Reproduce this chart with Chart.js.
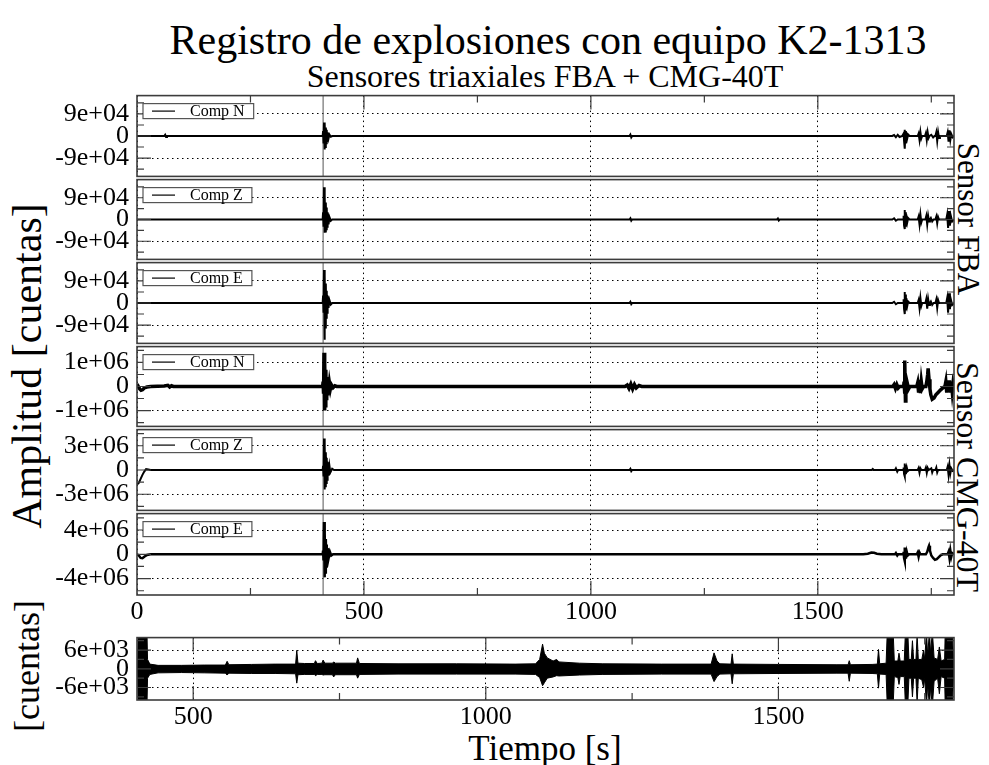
<!DOCTYPE html>
<html>
<head>
<meta charset="utf-8">
<script src="https://cdn.jsdelivr.net/npm/chart.js@4/dist/chart.umd.min.js"></script>
<style>
body { margin: 0; background: #fff; width: 989px; height: 765px; position: relative; overflow: hidden;
       font-family: "Liberation Serif", "Times New Roman", serif; color: #000; }
.txt { position: absolute; white-space: nowrap; line-height: 1; transform: translate(-50%, -50%); }
</style>
</head>
<body>
<div class="txt" style="left:548px;top:40px;font-size:42px">Registro de explosiones con equipo K2-1313</div>
<div class="txt" style="left:545px;top:76px;font-size:32px">Sensores triaxiales FBA + CMG-40T</div>
<div class="txt" style="left:968px;top:219px;font-size:31px;transform:translate(-50%,-50%) rotate(90deg)">Sensor FBA</div>
<div class="txt" style="left:968px;top:477px;font-size:32px;transform:translate(-50%,-50%) rotate(90deg)">Sensor CMG-40T</div>
<div class="txt" style="left:27px;top:366px;font-size:42px;transform:translate(-50%,-50%) rotate(-90deg)">Amplitud [cuentas]</div>
<div class="txt" style="left:27px;top:666px;font-size:36px;transform:translate(-50%,-50%) rotate(-90deg)">[cuentas]</div>
<div class="txt" style="left:545px;top:748px;font-size:35px">Tiempo [s]</div>
<script>
// time axis (s)
const tStart = 0, tEnd = 1800, tZoomStart = 404;
const xMajor = [0, 500, 1000, 1500];
const xMinor = [250, 750, 1250, 1750];
const markerTime = 410;

// one entry per stacked panel, top to bottom
const compNames = ['Comp N', 'Comp Z', 'Comp E', 'Comp N', 'Comp Z', 'Comp E'];
const yLimits = [1.65e5, 1.65e5, 1.65e5, 1.66e6, 5e6, 6.7e6];
const yMajorStep = [9e4, 9e4, 9e4, 1e6, 3e6, 4e6];

// traces [t, cuentas]
const fbaN = [[0,0],[60,0],[62,5e3],[64,-4e3],[66,0],[409,0],[410,2e4],[411,-3e4],[412,5.5e4],[413,-5.5e4],[414,5e4],[415,-4.5e4],[416,3.5e4],[417,-3e4],[418,2.5e4],[419,-2e4],[420,1.5e4],[422,-1e4],[424,6e3],[427,-3e3],[430,0],[1085,0],[1087,6e3],[1089,-6e3],[1091,0],[1664,0],[1668,4e3],[1672,-5e3],[1676,5e3],[1680,-4e3],[1686,0],[1689,1e4],[1690,-2e4],[1691,2.6e4],[1692,-5.2e4],[1693,2e4],[1694,-3e4],[1695,1.5e4],[1697,-1e4],[1699,6e3],[1702,0],[1720,0],[1722,1e4],[1724,-1.6e4],[1726,1.6e4],[1728,-1e4],[1730,0],[1736,0],[1738,1.2e4],[1740,-1.6e4],[1742,1.5e4],[1744,-8e3],[1746,0],[1750,5e3],[1754,-6e3],[1757,0],[1759,0],[1761,1.5e4],[1763,-2e4],[1765,1.5e4],[1767,-8e3],[1769,0],[1784,0],[1786,1.5e4],[1788,-2.3e4],[1790,2.3e4],[1792,-1.5e4],[1794,8e3],[1797,-5e3],[1800,0]];
const fbaZ = [[0,0],[409,0],[410,3e4],[411,-3e4],[412,1.33e5],[413,-5.5e4],[414,1e5],[415,-5e4],[416,7e4],[417,-4e4],[418,5e4],[419,-3e4],[420,3e4],[422,-2e4],[424,1e4],[427,-5e3],[430,0],[1085,0],[1087,5e3],[1089,-5e3],[1091,0],[1410,0],[1412,4e3],[1414,-4e3],[1416,0],[1664,0],[1668,5e3],[1672,-5e3],[1676,0],[1688,0],[1689,1.5e4],[1690,-2.5e4],[1691,3.9e4],[1692,-3.9e4],[1693,3e4],[1694,-3e4],[1695,2e4],[1697,-1.2e4],[1699,6e3],[1702,0],[1720,0],[1722,1.2e4],[1724,-2e4],[1726,2e4],[1728,-1.2e4],[1730,0],[1737,0],[1739,1.5e4],[1741,-2e4],[1743,1.5e4],[1745,-8e3],[1747,0],[1749,6e3],[1752,-8e3],[1755,0],[1759,0],[1761,1.2e4],[1763,-1.6e4],[1765,1e4],[1767,0],[1783,0],[1785,2e4],[1787,-3.5e4],[1789,3.5e4],[1791,-2.5e4],[1793,1.5e4],[1796,-8e3],[1800,0]];
const fbaE = [[0,0],[409,0],[410,3e4],[411,-4e4],[412,1.35e5],[413,-1.5e5],[414,1.1e5],[415,-1e5],[416,8e4],[417,-6e4],[418,5e4],[419,-4e4],[420,3e4],[422,-2e4],[424,1.2e4],[427,-6e3],[430,0],[1085,0],[1087,5e3],[1089,-5e3],[1091,0],[1664,0],[1668,5e3],[1672,-5e3],[1676,0],[1688,0],[1689,1.5e4],[1690,-2.5e4],[1691,4.5e4],[1692,-4.5e4],[1693,3.5e4],[1694,-3e4],[1695,2e4],[1697,-1.2e4],[1699,6e3],[1702,0],[1720,0],[1722,1.2e4],[1724,-2e4],[1726,2e4],[1728,-1.2e4],[1730,0],[1737,0],[1739,1.6e4],[1741,-2.3e4],[1743,1.6e4],[1745,-8e3],[1747,0],[1749,6e3],[1752,-8e3],[1755,0],[1759,0],[1761,1.4e4],[1763,-2e4],[1765,1.2e4],[1767,0],[1783,0],[1785,2e4],[1787,-4e4],[1789,4e4],[1791,-2.5e4],[1793,1.5e4],[1796,-8e3],[1800,0]];
const cmgN = [[0,1e5],[3,0],[6,-1e5],[9,-1.6e5],[12,-1.4e5],[16,-6e4],[22,-2e4],[30,0],[60,2e4],[68,5e4],[72,-2e4],[76,3e4],[80,0],[409,0],[410,2e5],[411,-3e5],[412,1.4e6],[413,-1e6],[414,1e6],[415,-8e5],[416,7e5],[417,-5e5],[418,4e5],[419,-3e5],[420,3e5],[422,-2e5],[424,1.5e5],[426,-1e5],[428,8e4],[432,-5e4],[436,3e4],[440,0],[1075,0],[1080,6e4],[1084,-8e4],[1088,1e5],[1092,-1e5],[1096,8e4],[1100,-6e4],[1106,4e4],[1112,0],[1665,0],[1668,8e4],[1671,-8e4],[1674,8e4],[1677,-6e4],[1680,0],[1689,0],[1690,2e5],[1691,-3e5],[1692,1.08e6],[1693,-6e5],[1694,3e5],[1695,-3e5],[1697,1.5e5],[1700,-1e5],[1703,0],[1718,0],[1720,1.5e5],[1722,-2.5e5],[1724,2.8e5],[1726,-2.8e5],[1728,2e5],[1730,-1e5],[1733,0],[1738,0],[1740,2e5],[1742,5e5],[1743,7.5e5],[1745,3e5],[1747,-1e5],[1749,-3.5e5],[1752,-5.3e5],[1756,-4.8e5],[1760,-3.5e5],[1765,-2.5e5],[1770,-1.5e5],[1776,-5e4],[1780,0],[1782,2e5],[1784,-2.5e5],[1786,2.5e5],[1788,-2e5],[1790,2.5e5],[1792,-2.5e5],[1794,2e5],[1796,-2e5],[1798,1.5e5],[1800,0]];
const cmgZ = [[0,-1.8e6],[4,-1.6e6],[8,-1.1e6],[12,-6e5],[16,-2e5],[20,1e5],[25,5e4],[30,0],[409,0],[410,5e5],[411,-8e5],[412,3.9e6],[413,-2.4e6],[414,3e6],[415,-2e6],[416,2.2e6],[417,-1.6e6],[418,1.5e6],[419,-1.2e6],[420,1e6],[422,-7e5],[424,5e5],[426,-3e5],[430,1.5e5],[434,0],[1085,0],[1087,1.5e5],[1089,-1.5e5],[1091,0],[1619,0],[1621,1.2e5],[1623,0],[1670,0],[1672,2e5],[1675,-2e5],[1677,0],[1688,0],[1689,3e5],[1690,-5e5],[1691,8e5],[1692,-8e5],[1693,6e5],[1694,-5e5],[1696,3e5],[1698,-1.5e5],[1701,0],[1720,0],[1722,2.5e5],[1724,-3.5e5],[1726,2e5],[1728,0],[1736,0],[1738,3e5],[1740,-3.5e5],[1742,2.5e5],[1744,0],[1750,2e5],[1752,-3e5],[1754,0],[1759,0],[1761,3e5],[1763,-3e5],[1765,0],[1784,0],[1786,4e5],[1788,-6e5],[1790,6e5],[1792,-4e5],[1794,2e5],[1797,-1e5],[1800,0]];
const cmgE = [[0,0],[4,-2e5],[8,-6e5],[12,-6.5e5],[16,-4e5],[22,-1e5],[30,0],[409,0],[410,6e5],[411,-1e6],[412,5.3e6],[413,-3.8e6],[414,3.5e6],[415,-3e6],[416,2.5e6],[417,-2e6],[418,1.6e6],[419,-1.3e6],[420,1e6],[422,-7e5],[425,4e5],[428,-2e5],[432,0],[1600,0],[1610,1e5],[1618,3e5],[1624,2.5e5],[1630,1e5],[1640,0],[1670,0],[1672,2e5],[1675,-2e5],[1677,0],[1688,0],[1689,4e5],[1690,-6e5],[1691,1.1e6],[1692,-1.1e6],[1693,8e5],[1694,-7e5],[1696,4e5],[1698,-2e5],[1701,0],[1718,0],[1720,3e5],[1722,-4e5],[1724,3e5],[1726,0],[1738,0],[1741,4e5],[1744,1.2e6],[1745,1.4e6],[1747,6e5],[1750,-2e5],[1754,-6e5],[1758,-9e5],[1762,-8e5],[1766,-5e5],[1770,-2e5],[1775,0],[1786,0],[1788,4e5],[1790,-6e5],[1792,6e5],[1794,-4e5],[1796,2e5],[1800,0]];
const traces = [fbaN, fbaZ, fbaE, cmgN, cmgZ, cmgE];

// zoomed panel: envelope of the noisy record
const botLimit = 1e4, botStep = 6e3;
const botTime  = [404,405,406,421,422,426,440,480,520,555,558,561,600,640,675,677,679,690,707,709,712,720,722,725,738,740,743,779,781,784,850,950,1050,1085,1092,1097,1100,1105,1115,1121,1125,1160,1200,1300,1385,1390,1395,1400,1419,1421,1423,1500,1600,1619,1621,1623,1660,1669,1671,1673,1684,1686,1696,1698,1704,1706,1708,1715,1717,1721,1723,1727,1729,1731,1735,1737,1739,1745,1748,1750,1753,1755,1758,1760,1763,1766,1772,1775,1778,1784,1785,1797,1799,1800];
const botUpper = [1000,1200,12000,12000,3000,1500,1100,1100,1200,1200,2400,1300,1400,1500,1500,5900,1800,1700,1700,2600,1700,1800,2800,1800,1800,2200,1800,1800,3500,1700,1600,1600,1500,1600,3000,7900,5000,3500,2500,3000,2200,1800,1600,1500,1500,5100,2500,1600,1500,4800,1500,1400,1300,1300,2600,1300,1400,1500,6200,1600,1800,12000,12000,2500,2500,5000,2500,2500,12000,12000,3000,3000,9000,3000,3000,11000,3000,3000,6000,3000,12000,4000,12000,5000,12000,3500,3000,7000,2500,3000,12000,12000,4000,4000];
const botLower = [-1000,-1200,-12000,-12000,-3000,-1800,-1300,-1200,-1300,-1400,-2000,-1400,-1500,-1500,-1600,-4600,-1900,-1800,-1800,-2200,-1800,-1800,-2000,-1900,-1900,-2600,-1900,-1900,-3000,-1800,-1700,-1700,-1700,-1800,-2800,-5400,-4500,-3000,-2600,-2200,-2300,-2000,-1800,-1700,-1700,-4100,-2500,-1700,-1600,-4800,-1600,-1500,-1400,-1400,-4000,-1400,-1500,-1600,-6200,-1700,-1800,-12000,-12000,-2500,-2800,-5000,-2500,-2500,-12000,-12000,-3000,-3000,-9000,-3000,-3000,-11000,-3000,-3500,-6000,-3000,-12000,-5000,-12000,-6000,-12000,-4000,-3000,-8000,-2500,-3000,-12000,-12000,-4000,-4000];

const serif = '"Liberation Serif", "Times New Roman", serif';
const tickFont = { family: serif, size: 26 };

function fmtExp(v) {
  if (v === 0) return '0';
  const e = Math.floor(Math.log10(Math.abs(v)));
  const m = Math.round(v / Math.pow(10, e));
  return m + 'e' + (e < 0 ? '-' : '+') + String(Math.abs(e)).padStart(2, '0');
}

function toXY(arr) { return arr.map(p => ({ x: p[0], y: p[1] })); }

// border, inward ticks and the boxed key, as gnuplot draws them
function framePlugin(f) {
  return {
    id: 'frame',
    afterDatasetsDraw(chart) {
      const { ctx, chartArea: a, scales: { x, y } } = chart;
      ctx.save();
      ctx.strokeStyle = '#3c3c3c';
      ctx.lineWidth = 1.2;
      ctx.beginPath();
      const half = f.yStep / 2;
      const n = Math.floor(y.max / half);
      for (let k = -n; k <= n; k++) {
        const py = y.getPixelForValue(k * half);
        const len = k % 2 === 0 ? 14 : 7;
        ctx.moveTo(a.left, py); ctx.lineTo(a.left + len, py);
        ctx.moveTo(a.right, py); ctx.lineTo(a.right - len, py);
      }
      const xt = xMajor.map(v => [v, 14]).concat(xMinor.map(v => [v, 7]));
      xt.forEach(([v, len]) => {
        if (v <= x.min || v >= x.max) return;
        const px = x.getPixelForValue(v);
        if (f.top) { ctx.moveTo(px, a.top); ctx.lineTo(px, a.top + len); }
        if (f.bottom) { ctx.moveTo(px, a.bottom); ctx.lineTo(px, a.bottom - len); }
      });
      ctx.stroke();
      ctx.lineWidth = 1.6;
      ctx.strokeRect(a.left, a.top, a.right - a.left, a.bottom - a.top);

      const label = chart.data.datasets[0].label;
      if (label) {
        ctx.font = '16px ' + serif;
        const w = ctx.measureText(label).width;
        const bx = a.left + 6, by = a.top + 8, bh = 15, bw = 47 + w + 9;
        ctx.fillStyle = '#fff';
        ctx.fillRect(bx, by, bw, bh);
        ctx.strokeStyle = '#555';
        ctx.lineWidth = 1.2;
        ctx.strokeRect(bx, by, bw, bh);
        ctx.strokeStyle = '#000';
        ctx.beginPath();
        ctx.moveTo(bx + 9, by + bh / 2); ctx.lineTo(bx + 32, by + bh / 2);
        ctx.stroke();
        ctx.fillStyle = '#000';
        ctx.textBaseline = 'middle';
        ctx.fillText(label, bx + 47, by + bh / 2 + 1);
      }
      ctx.restore();
    }
  };
}

function makePanel(p) {
  const pad = 22;
  const axisH = p.xLabels ? 40 : 0;
  const canvas = document.createElement('canvas');
  canvas.width = 989;
  canvas.height = p.height + 2 * pad + axisH;
  canvas.style.cssText = 'position:absolute;left:0;top:' + (p.top - pad) + 'px';
  document.body.appendChild(canvas);
  return new Chart(canvas, {
    type: 'line',
    data: { datasets: p.datasets },
    options: {
      responsive: false,
      animation: false,
      events: [],
      layout: { padding: { top: pad, bottom: pad, left: 0, right: 35 } },
      elements: { point: { radius: 0 }, line: { tension: 0 } },
      plugins: { legend: { display: false }, tooltip: { enabled: false } },
      scales: {
        x: {
          type: 'linear', min: p.xMin, max: p.xMax,
          afterBuildTicks: s => { s.ticks = p.xTicks.map(v => ({ value: v })); },
          afterFit: s => { s.height = axisH; },
          ticks: { display: p.xLabels, autoSkip: false, maxRotation: 0, padding: 2, color: '#000', font: tickFont, callback: v => String(v) },
          grid: { color: '#000', lineWidth: 1, drawTicks: false },
          border: { display: false, dash: [1.5, 3.5] }
        },
        y: {
          min: -p.yMax, max: p.yMax,
          afterBuildTicks: s => { s.ticks = [-p.yStep, 0, p.yStep].map(v => ({ value: v })); },
          afterFit: s => { s.width = 137; },
          ticks: { autoSkip: false, padding: 8, color: '#000', font: tickFont, callback: fmtExp },
          grid: { color: c => (c.tick && c.tick.value === 0) ? 'rgba(0,0,0,0)' : '#000', lineWidth: 1, drawTicks: false },
          border: { display: false, dash: [1.5, 3.5] }
        }
      }
    },
    plugins: [framePlugin({ yStep: p.yStep, top: p.top === 94 || p.zoom, bottom: p.xLabels })]
  });
}

const edges = [94, 178, 261, 345, 428, 512, 595];
const widths = [2, 2, 2, 3.5, 2, 2.5];
traces.forEach((tr, i) => {
  makePanel({
    top: edges[i], height: edges[i + 1] - edges[i],
    xMin: tStart, xMax: tEnd, xTicks: xMajor, xLabels: i === traces.length - 1,
    yMax: yLimits[i], yStep: yMajorStep[i],
    datasets: [
      { label: compNames[i], data: toXY(tr), borderColor: '#000', borderWidth: widths[i], clip: 0 },
      { data: [{ x: markerTime, y: -yLimits[i] }, { x: markerTime, y: yLimits[i] }], borderColor: '#555', borderWidth: 1, clip: 0 }
    ]
  });
});

makePanel({
  top: 636, height: 64, zoom: true,
  xMin: tZoomStart, xMax: tEnd, xTicks: [500, 1000, 1500], xLabels: true,
  yMax: botLimit, yStep: botStep,
  datasets: [
    { data: botTime.map((t, i) => ({ x: t, y: botUpper[i] })), borderColor: '#000', borderWidth: 1, clip: 0 },
    { data: botTime.map((t, i) => ({ x: t, y: botLower[i] })), borderColor: '#000', borderWidth: 1, fill: '-1', backgroundColor: '#000', clip: 0 }
  ]
});
</script>
</body>
</html>
